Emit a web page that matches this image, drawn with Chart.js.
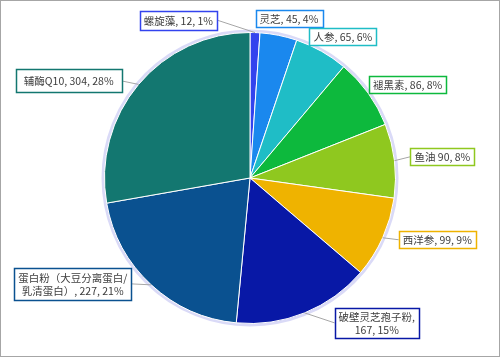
<!DOCTYPE html>
<html>
<head>
<meta charset="utf-8">
<script src="https://cdn.jsdelivr.net/npm/chart.js@4/dist/chart.umd.min.js"></script>
<style>
html,body{margin:0;padding:0;background:#fff;}
#wrap{position:relative;width:500px;height:357px;box-sizing:border-box;border:1px solid #a6a6a6;background:#fff;}
canvas{position:absolute;left:-1px;top:-1px;}
</style>
</head>
<body>
<div id="wrap"><canvas id="c" width="500" height="357"></canvas></div>
<script>
// ---- data ----
const categories = ['螺旋藻','灵芝','人参','褪黑素','鱼油','西洋参','破壁灵芝孢子粉','蛋白粉（大豆分离蛋白/乳清蛋白）','辅酶Q10'];
const values = [12,45,65,86,90,99,167,227,304];
const percentLabels = ['1%','4%','6%','8%','8%','9%','15%','21%','28%'];
const labelTexts = [
  ['螺旋藻, 12, 1%'],
  ['灵芝, 45, 4%'],
  ['人参, 65, 6%'],
  ['褪黑素, 86, 8%'],
  ['鱼油 90, 8%'],
  ['西洋参, 99, 9%'],
  ['破壁灵芝孢子粉,','167, 15%'],
  ['蛋白粉（大豆分离蛋白/','乳清蛋白）, 227, 21%'],
  ['辅酶Q10, 304, 28%']
];
const colors = ['#3343ee','#1a88ee','#1fbdc6','#0db93d','#8fc81f','#efb300','#0818a6','#0a5190','#137770'];

// ---- label layout (offsets from slice edge point) ----
const labelLayout = [
  {dx:-38, dy:-12.5, align:'right', line:true,  padX:4, padY:3},
  {dx:-23, dy:-16.5, align:'left',  line:false, padX:4, padY:2},
  {dx:-12, dy:-14.5, align:'left',  line:false, padX:4, padY:2},
  {dx:1,   dy:-8.5,  align:'left',  line:false, padX:4, padY:2},
  {dx:16,  dy:-4,    align:'left',  line:true,  padX:4, padY:2},
  {dx:16,  dy:2,     align:'left',  line:true,  padX:4, padY:2},
  {dx:30,  dy:10,    align:'left',  line:true,  padX:4, padY:2},
  {dx:-20, dy:-1,    align:'right', line:true,  padX:4, padY:3},
  {dx:-17, dy:-3.5,  align:'right', line:true,  padX:8, padY:5}
];

const FONT = '10.5px "Noto Sans CJK SC", "Noto Sans", sans-serif';
const LINE_H = 13;

const glowPlugin = {
  id:'glow',
  beforeDatasetsDraw(chart){
    const a = chart.getDatasetMeta(0).data[0];
    if(!a) return;
    const ctx = chart.ctx;
    ctx.save();
    ctx.beginPath();
    ctx.arc(a.x, a.y, a.outerRadius + 1.5, 0, Math.PI*2);
    ctx.strokeStyle = 'rgba(214,214,246,0.9)';
    ctx.lineWidth = 3;
    ctx.stroke();
    ctx.restore();
  }
};

const labelPlugin = {
  id:'boxLabels',
  afterDatasetsDraw(chart){
    const ctx = chart.ctx;
    const arcs = chart.getDatasetMeta(0).data;
    ctx.save();
    ctx.font = FONT;
    arcs.forEach((arc,i)=>{
      const mid = (arc.startAngle + arc.endAngle)/2;
      const R = arc.outerRadius;
      const ex = arc.x + Math.cos(mid)*R;
      const ey = arc.y + Math.sin(mid)*R;
      const L = labelLayout[i];
      const lines = labelTexts[i];
      const tw = Math.max(...lines.map(t=>ctx.measureText(t).width));
      const bw = tw + L.padX*2;
      const bh = lines.length*LINE_H + L.padY*2;
      const ax = ex + L.dx, ay = ey + L.dy;
      const bx = L.align==='left' ? ax : ax - bw;
      const by = ay - bh/2;
      if(L.line){
        ctx.beginPath();
        ctx.moveTo(ex, ey);
        ctx.lineTo(ax, ay);
        ctx.strokeStyle = '#a6a6a6';
        ctx.lineWidth = 1;
        ctx.stroke();
      }
      ctx.fillStyle = '#fff';
      ctx.fillRect(Math.round(bx)+0.5, Math.round(by)+0.5, Math.round(bw), Math.round(bh));
      ctx.strokeStyle = colors[i];
      ctx.lineWidth = 1.5;
      ctx.strokeRect(Math.round(bx)+0.5, Math.round(by)+0.5, Math.round(bw), Math.round(bh));
      ctx.fillStyle = '#3c3c3c';
      ctx.textAlign = 'center';
      ctx.textBaseline = 'middle';
      lines.forEach((t,k)=>{
        ctx.fillText(t, bx + bw/2, by + L.padY + LINE_H*(k+0.5) + 0.5);
      });
    });
    ctx.restore();
  }
};

new Chart(document.getElementById('c'), {
  type:'pie',
  data:{
    labels: categories,
    datasets:[{
      data: values,
      backgroundColor: colors,
      borderColor:'#ffffff',
      borderWidth:1
    }]
  },
  options:{
    responsive:false,
    animation:false,
    layout:{padding:{top:32,bottom:33,left:0,right:0}},
    plugins:{legend:{display:false},tooltip:{enabled:false}}
  },
  plugins:[glowPlugin,labelPlugin]
});
</script>
</body>
</html>
